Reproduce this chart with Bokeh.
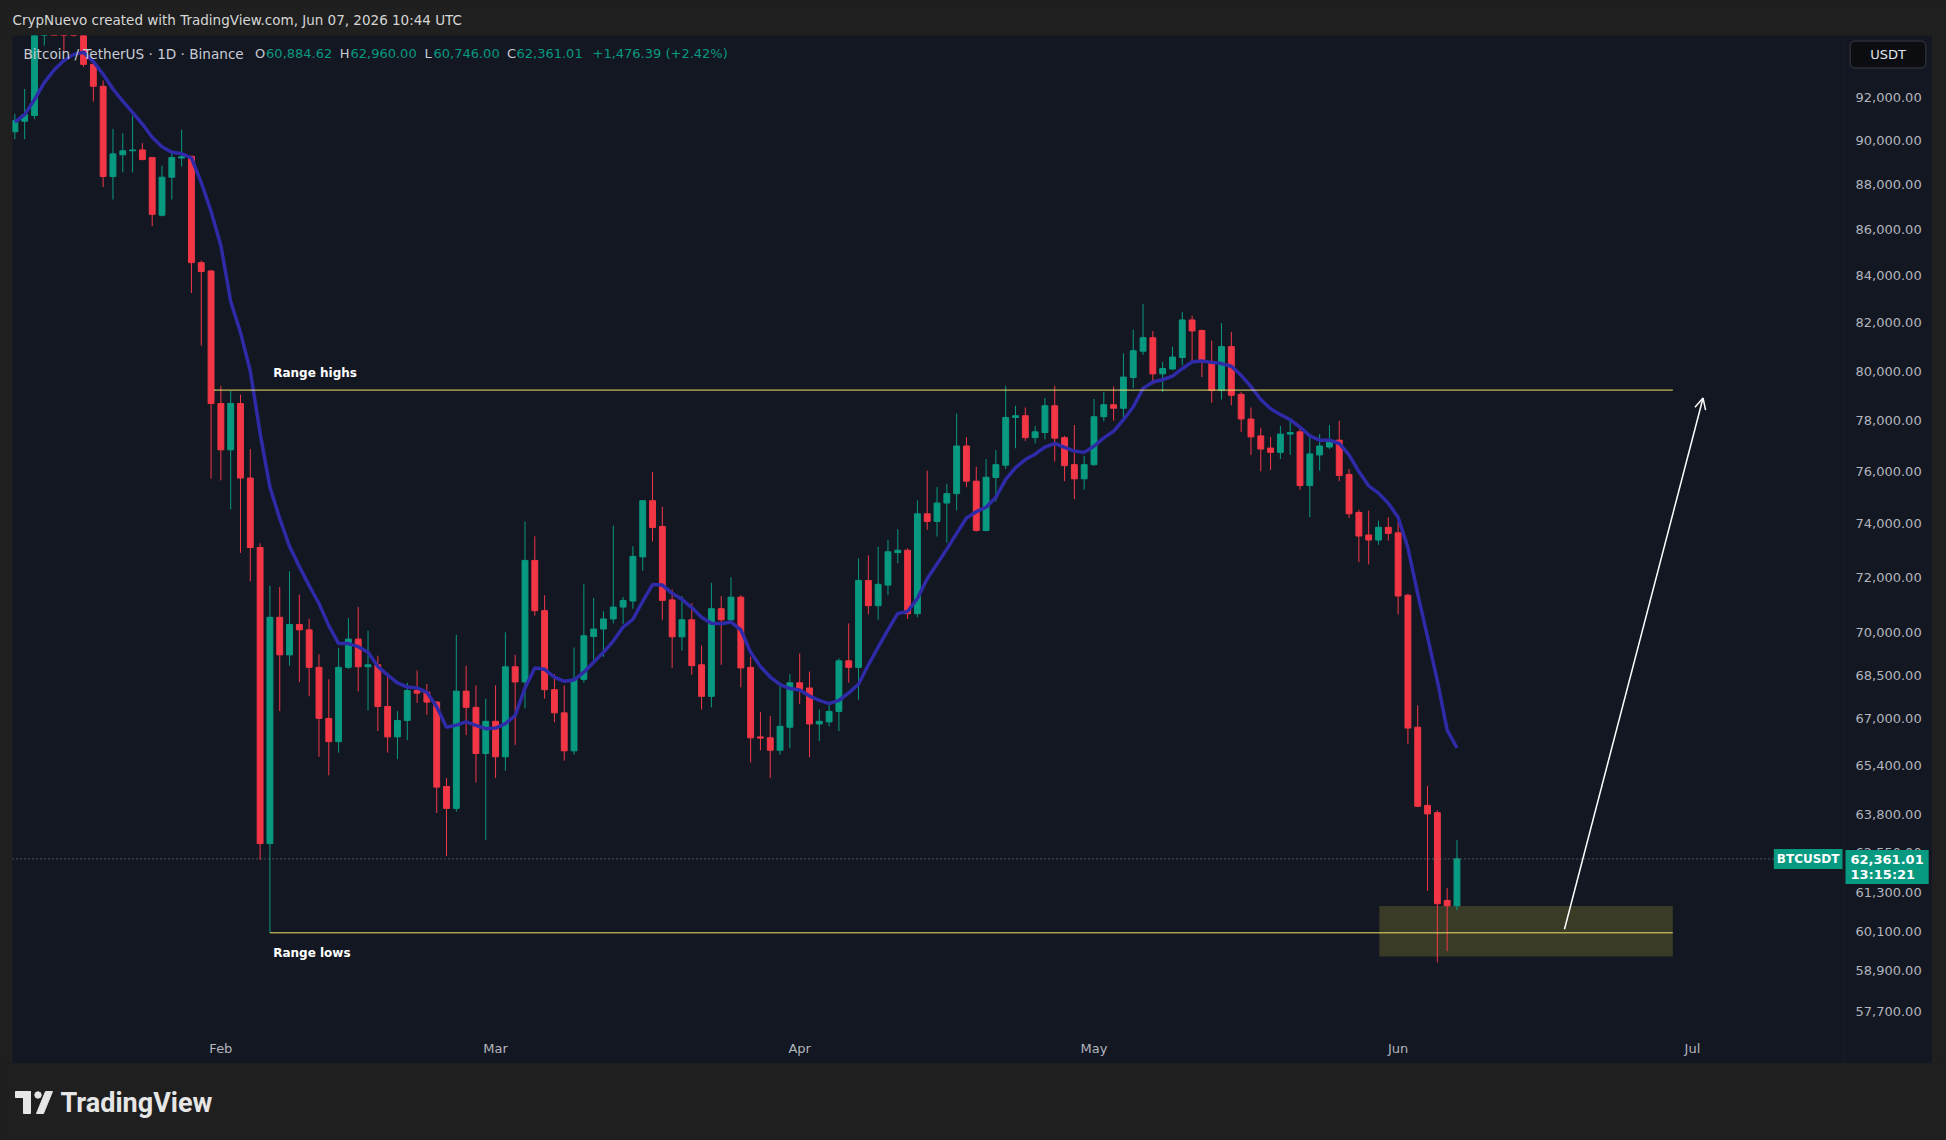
import pandas as pd
from bokeh.plotting import figure
from bokeh.models import (ColumnDataSource, Range1d, FixedTicker, DatetimeTickFormatter,
                          Label, Span, Arrow, OpenHead, Spacer)
from bokeh.layouts import column, row
from bokeh.embed import file_html
from bokeh.resources import INLINE
from bokeh.core.properties import value

# ---------------- data (BTCUSDT daily, 2026-01-11 .. 2026-06-07) ----------------
first_day = "2026-01-11"

opens = [
    90400, 90890, 91160, 95700, 96800, 96200, 95300, 95050, 93570, 92530,
    88360, 89350, 89530, 89570, 89220, 86630, 88330, 89200, 89280, 84560, 84200,
    78690, 76850, 78690, 75750, 73110, 62850, 70550, 69210, 70290, 70100,
    68770, 67000, 66210, 68770, 69770, 68790, 68860, 67410, 66370, 66930,
    67960, 67910, 67560, 64710, 63990, 67940, 67380, 65810,
    66900, 65700, 68790, 68260, 72630, 70790, 67990, 67190, 65900, 68350,
    69860, 70130, 70490, 70920, 71140, 72760, 74880, 73900, 71180, 69850,
    70460, 68860, 67760, 70860, 70460, 71280, 68770, 66370, 66340, 65920, 66700,
    68230, 68050, 66810, 66880, 67240, 69000, 68770, 71890, 70970, 71720,
    72920, 73010, 70680, 74380, 74090, 74790, 75150, 77000, 75630, 73750,
    75770, 76250, 78130, 78200, 77330, 77530, 78600, 77330, 76270, 75720,
    76270, 78160, 78640, 78500, 79740, 80820, 81380, 79890, 80090, 80560,
    82120, 81680, 80400, 79220, 81010, 79060, 78070, 77400, 76920, 76750,
    77470, 77560, 75460, 76650, 76960, 77230, 75890, 74430, 73580, 73390, 73870,
    73660, 71350, 66700, 64090, 63850, 61050, 60884.62,
]
highs = [
    91230, 92400, 96300, 97400, 97600, 96900, 95900, 95400, 93650, 92800,
    90540, 90330, 91160, 89880, 89240, 88850, 89500, 90500, 89300, 84650, 84250,
    79400, 79200, 79050, 76880, 73270, 71700, 71650, 72230, 71370, 70500,
    69230, 68350, 69450, 70520, 70920, 70070, 69180, 68440, 67250, 68230,
    68660, 68190, 67590, 64990, 69920, 68830, 68140, 67680,
    68140, 70010, 69210, 74090, 73530, 71350, 68530, 68140, 69470, 71750,
    71250, 70770, 73930, 71280, 73160, 74900, 75990, 74650, 71560, 71320,
    71060, 69540, 71800, 71320, 72010, 71350, 69140, 67220, 67080, 68100, 68530,
    69260, 68620, 67300, 67490, 69090, 70330, 72700, 72820, 73140, 73400,
    73800, 73080, 74890, 76040, 75400, 75530, 78290, 77350, 76190, 76490,
    76840, 79400, 78600, 78530, 77790, 78910, 79400, 77400, 77830, 76620,
    78870, 79150, 79380, 80730, 81720, 82800, 81660, 80380, 81010, 82450,
    82300, 81720, 81260, 81990, 81620, 79150, 78530, 77720, 77360, 77790,
    78110, 77790, 77330, 77470, 77830, 78000, 76100, 74530, 74500, 74120, 74250,
    74090, 71400, 67450, 64730, 63930, 61440, 62960,
]
lows = [
    90060, 90060, 91000, 94470, 95600, 94140, 94900, 93450, 91810, 87890,
    87330, 88550, 88550, 89100, 86150, 86580, 87330, 88820, 83260, 81050, 75730,
    75660, 74550, 72910, 71860, 62330, 60050, 67250, 68830, 68260, 67760,
    65700, 65080, 65840, 68720, 67930, 67270, 66570, 65840, 65620, 66260,
    67530, 67120, 63840, 62450, 63880, 66430, 64840, 62960,
    64990, 65230, 66100, 67340, 70610, 67680, 66870, 65570, 65770, 68230,
    68940, 69140, 70330, 70310, 70860, 72240, 73330, 70460, 68750, 69360,
    68510, 67300, 67380, 68860, 70330, 68070, 65510, 65920, 64990, 65770, 65990,
    67490, 65680, 66230, 66730, 66570, 68230, 67640, 70650, 70460, 71350,
    72530, 70490, 70550, 73770, 73520, 73290, 74510, 75400, 73710, 73710,
    74850, 76100, 76910, 77200, 77100, 77260, 76390, 75630, 74940, 75300,
    76230, 77970, 78000, 78130, 79300, 80670, 79460, 79150, 80040, 80240,
    80380, 79760, 78720, 78850, 78620, 77560, 76650, 76010, 76060, 76490,
    76650, 75300, 74250, 76040, 76880, 75630, 74220, 72570, 72480, 73210, 73370,
    70650, 66120, 64030, 61350, 59150, 59490, 60746,
]
closes = [
    90930, 91200, 95700, 96800, 96200, 95300, 95050, 93570, 92530, 88360,
    89390, 89530, 89570, 89130, 86670, 88330, 89220, 89260, 84560, 84180, 78690,
    76850, 78690, 75750, 73110, 62850, 70550, 69210, 70290, 70100, 68770,
    67000, 66210, 68770, 69770, 68790, 68860, 67410, 66370, 66930, 67960,
    67870, 67560, 64690, 63990, 67940, 67380, 65810, 66900,
    65700, 68790, 68260, 72630, 70790, 67990, 67190, 65900, 68350, 69890,
    70130, 70490, 70920, 71160, 72780, 74880, 73860, 71160, 69850, 70460,
    68830, 67760, 70860, 70460, 71280, 68750, 66340, 66330, 65920, 66730, 68230,
    67990, 66810, 66900, 67240, 69000, 68770, 71890, 70970, 71750, 72950,
    73010, 70680, 74380, 74090, 74790, 75150, 77000, 75630, 73750, 75780,
    76270, 78130, 78200, 77330, 77560, 78600, 77310, 76230, 75720, 76270,
    78160, 78640, 78500, 79760, 80840, 81380, 79890, 80110, 80580, 82120,
    81660, 80380, 79220, 81010, 79020, 78070, 77360, 76880, 76750, 77470,
    77530, 75460, 76690, 77000, 77230, 75850, 74380, 73540, 73390, 73870, 73640,
    71320, 66670, 64060, 63810, 60950, 60884.62, 62361.01,
]
# moving average line (same days)
ma_values = [
    90850, 91200, 91900, 92700, 93300, 93750, 94050, 94150, 93700, 93100,
    92400, 91830, 91300, 90760, 90150, 89720, 89460, 89400, 89200, 88100, 86800,
    85300, 82900, 81600, 80000, 77500, 75400, 74200, 73150, 72400, 71700,
    71050, 70250, 69610, 69610, 69500, 69300, 68800, 68500, 68230, 68080,
    68050, 67900, 67400, 66700, 66770, 66880, 66760, 66650,
    66670, 66820, 67100, 68050, 68750, 68700, 68430, 68280, 68330, 68600,
    68950, 69300, 69700, 70200, 70480, 71130, 71740, 71720, 71420, 71200,
    70900, 70550, 70340, 70320, 70380, 70100, 69300, 68800, 68430, 68170, 68030,
    67980, 67770, 67620, 67510, 67620, 67880, 68180, 68860, 69480, 70100,
    70690, 70760, 71230, 71950, 72500, 73050, 73640, 74220, 74460, 74630,
    75010, 75700, 76150, 76470, 76680, 76960, 77100, 76950, 76800, 76750,
    76990, 77320, 77580, 78040, 78550, 79300, 79560, 79650, 79800, 80100,
    80380, 80420, 80360, 80310, 80200, 79830, 79370, 78850, 78480, 78250,
    78040, 77750, 77400, 77230, 77230, 77100, 76650, 76000, 75450, 75170, 74780,
    74250, 73100, 71400, 69850, 68300, 66600, 66000,
]

price_ticks = [57700, 58900, 60100, 61300, 62550, 63800, 65400, 67000, 68500, 70000,
               72000, 74000, 76000, 78000, 80000, 82000, 84000, 86000, 88000, 90000, 92000]
month_ticks = ["2026-02-01", "2026-03-01", "2026-04-01", "2026-05-01", "2026-06-01", "2026-07-01"]

last_price = 62361.01
countdown = "13:15:21"
range_high = 79230
range_low = 60050
range_high_start = "2026-01-31 07:00"
range_low_start = "2026-02-06 00:00"
range_end = "2026-06-29 00:00"
zone_top, zone_bottom = 60880, 59330
zone_start, zone_end = "2026-05-30 02:00", "2026-06-29 00:00"
arrow_from = ("2026-06-17 23:00", 60160)
arrow_to = ("2026-07-02 02:00", 78910)

legend_parts = [("Bitcoin / TetherUS · 1D · Binance", "name"), ("O", "key"), ("60,884.62", "val"),
                ("H", "key"), ("62,960.00", "val"), ("L", "key"), ("60,746.00", "val"),
                ("C", "key"), ("62,361.01", "val"), ("+1,476.39 (+2.42%)", "val")]
legend_x = [11, 242.5, 253.6, 327.3, 338, 412, 421, 494.5, 504, 580]

# ---------------- style ----------------
BG = "#131722"
OUT = "#1f1f1f"
GREEN = "#089981"
RED = "#f23645"
TXT = "#b2b5be"
MA_COLOR = "#2f2aa8"
YEL = "#f0e16a"
FONT = "DejaVu Sans"
DAY = 86400000.0
Y_LO, Y_HI = 57041, 94960


def ms(s):
    return pd.Timestamp(s).value / 1e6


dates = pd.date_range(first_day, periods=len(closes), freq="D")
colors = [GREEN if c >= o else RED for o, c in zip(opens, closes)]
src = ColumnDataSource(dict(
    date=dates, open=opens, high=highs, low=lows, close=closes,
    top=[max(o, c) for o, c in zip(opens, closes)],
    bottom=[min(o, c) for o, c in zip(opens, closes)],
    color=colors))
ma_src = ColumnDataSource(dict(date=pd.date_range(first_day, periods=len(ma_values), freq="D"), ma=ma_values))

anchor = ms("2026-02-01")
x0 = anchor - 21.24 * DAY
x1 = anchor + 165.40 * DAY
yr = Range1d(Y_LO, Y_HI)

# ---------------- main chart pane ----------------
p = figure(width=1831, height=1028, x_axis_type="datetime", y_axis_type="log",
           y_axis_location=None, x_range=Range1d(x0, x1), y_range=yr,
           output_backend="svg", toolbar_location=None,
           min_border_left=0, min_border_top=0, min_border_right=0, min_border_bottom=30,
           background_fill_color=BG, border_fill_color=BG, outline_line_color=None)
p.grid.grid_line_color = None

xax = p.xaxis[0]
xax.ticker = FixedTicker(ticks=[ms(t) for t in month_ticks])
xax.formatter = DatetimeTickFormatter(days="%b", months="%b", years="%b", hours="%b")
xax.major_label_text_font = FONT
xax.major_label_text_font_size = "13px"
xax.major_label_text_color = TXT
xax.major_label_standoff = 7
xax.axis_line_color = None
xax.major_tick_line_color = None
xax.minor_tick_line_color = None
xax.major_tick_out = 0
xax.major_tick_in = 0

# demand zone
p.quad(left=[ms(zone_start)], right=[ms(zone_end)], top=[zone_top], bottom=[zone_bottom],
       fill_color="#ffeb3b", fill_alpha=0.17, line_color=None)

# candles
p.segment(x0="date", y0="low", x1="date", y1="high", line_color="color", line_width=1, source=src)
p.vbar(x="date", width=0.6 * DAY, top="top", bottom="bottom", fill_color="color",
       line_color="color", line_width=1, source=src)

# moving average
p.line(x="date", y="ma", line_color=MA_COLOR, line_width=3.5, source=ma_src)

# range lines
p.segment(x0=[ms(range_high_start), ms(range_low_start)], y0=[range_high, range_low],
          x1=[ms(range_end), ms(range_end)], y1=[range_high, range_low],
          line_color=YEL, line_width=1)

# last price line
p.add_layout(Span(location=last_price, dimension="width", line_color="#868993",
                  line_dash="1 3", line_width=1))

# arrow
p.add_layout(Arrow(end=OpenHead(size=11, line_color="white", line_width=1.5),
                   x_start=ms(arrow_from[0]), y_start=arrow_from[1],
                   x_end=ms(arrow_to[0]), y_end=arrow_to[1],
                   line_color="white", line_width=1.5))

# range labels
p.add_layout(Label(x=ms("2026-02-06 08:00"), y=79920, text="Range highs", text_font=FONT,
                   text_font_size="12px", text_font_style="bold", text_color="#ffffff",
                   text_baseline="middle"))
p.add_layout(Label(x=ms("2026-02-06 08:00"), y=59450, text="Range lows", text_font=FONT,
                   text_font_size="12px", text_font_style="bold", text_color="#ffffff",
                   text_baseline="middle"))

# legend (top-left)
for (txt, kind), lx in zip(legend_parts, legend_x):
    col = {"name": "#c9ccd4", "key": "#c9ccd4", "val": GREEN}[kind]
    size = "13.6px" if kind == "name" else "13px"
    p.add_layout(Label(x=lx, x_units="screen", y=94090, text=txt, text_font=FONT,
                       text_font_size=size, text_color=col, text_baseline="middle"))

# symbol tag at the right edge of the pane
p.add_layout(Label(x=x1, y=last_price, x_offset=-1, text="BTCUSDT", text_font=FONT,
                   text_font_size="12px", text_font_style="bold", text_color="#ffffff",
                   text_align="right", text_baseline="middle",
                   background_fill_color=GREEN, padding=3))

# ---------------- price scale (same log y scale) ----------------
ps = figure(width=89, height=1028, y_axis_type="log", x_range=Range1d(0, 89), y_range=yr,
            output_backend="svg", toolbar_location=None,
            min_border_left=0, min_border_top=0, min_border_right=0, min_border_bottom=30,
            x_axis_location=None, y_axis_location=None,
            background_fill_color=BG, border_fill_color=BG, outline_line_color=None)
ps.grid.visible = False
tick_src = ColumnDataSource(dict(y=price_ticks, x=[12] * len(price_ticks),
                                 label=["{:,.2f}".format(t) for t in price_ticks]))
ps.text(x="x", y="y", text="label", source=tick_src, text_font=value(FONT),
        text_font_size="13px", text_color=TXT, text_baseline="middle", text_align="left")
ps.add_layout(Label(x=2, y=last_price, y_offset=9,
                    text="%s\n%s" % ("{:,.2f}".format(last_price), countdown), text_font=FONT,
                    text_font_size="13px", text_font_style="bold", text_color="#ffffff",
                    text_align="left", text_baseline="top", text_line_height=1.0,
                    background_fill_color=GREEN, padding=(5, 2)))
ps.add_layout(Label(x=44.5, y=94043, text="USDT", text_font=FONT,
                    text_font_size="13px", text_color="#e0e3eb",
                    text_align="center", text_baseline="middle",
                    background_fill_color="#0c0d10", border_line_color="#3a3d45",
                    border_radius=5, padding=(20, 6)))

# ---------------- header ----------------
header = figure(width=1946, height=35, x_range=Range1d(0, 1946), y_range=Range1d(0, 35),
                output_backend="svg", toolbar_location=None, min_border=0,
                x_axis_location=None, y_axis_location=None,
                background_fill_color=OUT, border_fill_color=OUT, outline_line_color=None)
header.grid.visible = False
header.add_layout(Label(x=12, y=16, text="CrypNuevo created with TradingView.com, Jun 07, 2026 10:44 UTC",
                        text_font=FONT, text_font_size="13.5px", text_color="#d6d6d6",
                        text_baseline="middle"))

# ---------------- footer ----------------
footer = figure(width=1946, height=77, x_range=Range1d(0, 1946), y_range=Range1d(0, 77),
                output_backend="svg", toolbar_location=None, min_border=0,
                x_axis_location=None, y_axis_location=None,
                background_fill_color=OUT, border_fill_color=OUT, outline_line_color=None)
footer.grid.visible = False
LOGO = "#e6e6e6"
footer.quad(left=[15, 23], right=[30, 30], top=[49, 49], bottom=[43, 27], color=LOGO)
footer.circle(x=[37.5], y=[45.5], radius=3.2, color=LOGO)
footer.patch(x=[36, 43, 52, 45], y=[27, 27, 49, 49], color=LOGO)
footer.add_layout(Label(x=60, y=38, text="TradingView", text_font="Roboto", text_font_size="27px",
                        text_font_style="bold", text_color=LOGO, text_baseline="middle"))

left = Spacer(width=12, height=1028, styles={"background-color": OUT})
right = Spacer(width=14, height=1028, styles={"background-color": OUT})
layout = column(header, row(left, p, ps, right), footer, styles={"background-color": OUT})

open("out.html", "w").write(file_html(layout, INLINE, title="BTCUSDT"))
